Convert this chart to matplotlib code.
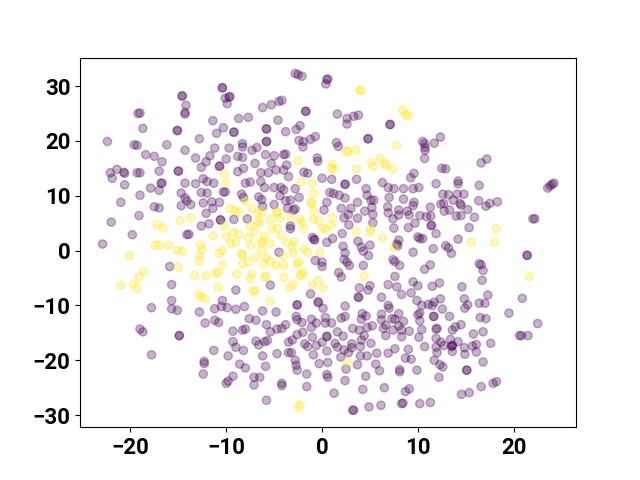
import numpy as np
import matplotlib
matplotlib.use('Agg')
import matplotlib.pyplot as plt

# points, label 0 (purple)
purple = [
(-2.8,32.3),(-2.5,32.1),(-2.1,31.8),(0.5,31.2),(0.6,31.3),(0.4,30.4),(-10.4,29.7),(-10.4,29.7),(-9.7,28.0),(-9.6,28.1),
(-10.1,27.8),(-9.9,26.8),(-14.6,28.2),(-14.6,28.2),(-14.2,26.5),(-14.3,25.2),(-14.3,24.9),(-19.2,25.0),(-19.0,25.1),(-18.7,22.3),
(-15.1,21.9),(-15.1,21.9),(-11.4,23.7),(-8.7,24.1),(-7.7,24.3),(-6.2,26.1),(-5.3,26.6),(-4.5,27.2),(-4.2,27.4),(-1.7,25.4),
(-1.7,25.4),(-4.6,23.8),(-10.3,22.4),(-11.0,21.4),(-9.2,21.6),(-9.2,21.6),(-5.8,22.2),(-5.8,22.2),(-3.8,21.7),(-2.7,22.1),
(-2.3,22.8),(-5.8,19.9),(-5.8,19.9),(-2.4,20.1),(-1.95,19.9),(-2.0,18.9),(-1.2,20.3),(-0.7,20.8),(-8.3,19.5),(-8.3,18.9),
(-7.3,18.3),(-6.8,18.8),(-9.7,18.7),(-11.2,18.7),(-12.8,20.4),(-22.4,19.9),(-19.6,19.3),(-19.3,19.2),(-16.2,19.3),(-14.3,18.3),
(-18.4,17.5),(-17.5,17.2),(-16.7,16.2),(-13.2,16.9),(-11.7,17.3),(-12.1,16.2),(-12.6,15.2),(-10.0,16.7),(-8.8,17.2),(-8.3,17.0),
(-7.0,15.9),(-5.9,17.5),(-5.0,17.3),(-4.0,17.5),(-3.8,17.6),(-5.3,15.9),(-0.5,16.9),(-0.45,16.3),(-3.7,15.6),(-10.7,15.4),
(-10.7,15.4),(-8.2,15.0),(-8.8,14.4),(-6.4,14.2),(-5.6,14.2),(-4.8,14.7),(-4.0,14.7),(-1.9,14.3),(-1.5,14.1),(-3.5,13.5),
(0.0,13.2),(-6.4,12.6),(-22.1,14.2),(-21.4,14.8),(-21.9,13.2),(-20.7,14.3),(-20.6,14.1),(-19.3,14.2),(-19.0,14.2),(-17.0,14.5),
(-15.0,14.5),(-15.0,14.5),(-20.6,12.0),(-16.8,12.3),(-16.7,12.3),(-17.9,11.4),(-17.0,11.0),(-14.3,12.3),(-13.2,12.2),(-12.4,13.1),
(-12.0,12.6),(-11.3,12.3),(-8.0,12.3),(-7.5,12.5),(-6.0,11.5),(-5.0,11.5),(-4.3,11.5),(-4.0,11.1),(-2.8,11.3),(-14.7,10.5),
(-12.6,10.6),(-12.0,10.5),(-10.3,10.7),(-10.1,10.7),(-8.4,10.3),(-19.0,10.1),(-4.4,10.0),(-2.4,9.7),(-21.0,8.8),(-14.3,9.6),
(-14.1,9.1),(-13.7,8.4),(-14.7,8.2),(-12.4,8.7),(-11.5,8.9),(-10.7,8.8),(-11.4,7.7),(-8.2,9.7),(-6.6,9.8),(-6.3,9.3),
(-6.2,8.1),(-5.0,8.4),(-3.3,9.2),(-3.8,9.1),(-3.6,7.7),(-2.8,7.6),(-3.0,7.4),(0.5,8.8),(-17.5,8.0),(-17.0,7.8),
(-12.1,6.8),(-19.1,6.4),(-22.0,5.2),(-10.6,5.6),(-10.6,5.6),(-9.2,5.7),(-7.8,5.8),(-11.8,4.9),(-12.6,4.5),(-3.3,4.5),
(-3.3,4.0),(-14.1,2.9),(-13.9,3.0),(-19.8,2.9),(-22.9,1.2),(-1.0,2.4),(-0.8,2.0),(-0.8,2.0),(0.5,1.5),
(-4.5,-0.3),(-15.9,-2.9),(-15.7,-6.2),(-9.0,-7.2),(-5.4,-6.3),(-1.2,-7.9),(-0.7,-1.8),(0.0,-2.1),(0.0,-2.9),
(-15.7,-9.1),(-15.7,-10.6),(-15.1,-10.9),(-17.8,-10.4),(-12.8,-11.2),(-11.2,-10.6),(-10.4,-9.1),(-10.5,-10.2),(-9.9,-10.4),(-9.0,-10.7),
(-8.1,-10.2),(-2.6,-9.9),(-2.6,-9.9),(-0.4,-9.3),(-0.4,-9.5),(0.1,-10.5),(-6.2,-11.0),(-4.8,-11.2),(-2.7,-12.0),(-2.6,-12.6),
(-2.1,-13.1),(-1.1,-12.5),(-0.6,-13.2),(-1.1,-14.0),(0.35,-12.2),(0.35,-13.2),(-7.6,-12.4),(-6.9,-12.7),(-5.8,-13.5),(-3.8,-13.5),
(-11.2,-12.7),(-10.8,-13.1),(-12.2,-13.2),(-19.0,-14.3),(-18.7,-14.8),(-14.9,-15.5),(-14.9,-15.5),(-9.3,-14.7),(-8.3,-14.5),(-8.0,-14.3),
(-5.4,-14.8),(-4.7,-14.3),(-4.2,-14.2),(-2.0,-14.9),(-2.6,-15.3),(-1.0,-15.8),(0.5,-15.6),(0.5,-15.7),(0.0,-16.7),(-0.6,-17.3),
(-6.9,-16.5),(-6.6,-17.2),(-6.0,-16.6),(-5.7,-16.4),(-9.3,-16.6),(-9.0,-17.6),(-8.2,-18.2),(-3.5,-16.7),(-3.1,-16.3),(-1.8,-17.0),
(-1.5,-17.5),(-11.3,-18.2),(-9.8,-19.2),(-6.2,-19.2),(-4.7,-18.8),(-3.5,-18.6),(-3.2,-18.6),(-0.9,-19.0),(0.5,-18.3),(-17.8,-19.0),
(-12.3,-20.2),(-12.3,-20.6),(-12.4,-22.5),(-2.8,-20.0),(-2.7,-20.9),(-2.6,-21.8),(-8.6,-20.7),(-8.0,-21.4),(-5.9,-21.1),(-0.3,-20.6),
(0.6,-20.4),(-1.6,-22.5),(0.5,-22.6),(0.6,-23.1),(-9.3,-22.9),(-9.8,-23.8),(-10.0,-24.2),(-7.1,-23.1),(-6.5,-23.1),(-7.1,-24.5),
(-4.2,-24.2),(-4.2,-24.6),(-1.6,-24.8),(-5.8,-27.3),
(1.6,24.9),(2.6,24.1),(2.6,23.1),(3.3,24.5),(3.8,24.7),(7.1,23.0),(7.1,23.0),(4.8,20.4),(4.8,20.4),(1.5,19.7),
(1.7,19.0),(10.5,19.9),(10.7,19.5),(10.75,18.8),(10.75,18.3),(11.7,19.6),(12.35,20.7),(10.7,16.8),(16.6,16.0),(17.2,16.7),
(12.5,15.0),(12.9,14.9),(9.6,14.1),(9.25,13.3),(1.0,13.0),(3.6,13.0),(2.4,12.1),(2.4,12.1),(6.3,12.4),(4.6,11.3),
(6.9,11.5),(7.5,11.3),(8.5,11.3),(9.5,11.3),(10.1,11.5),(11.9,12.2),(14.2,12.7),(14.2,12.2),(16.4,11.9),(23.55,11.4),
(23.8,11.8),(24.0,12.1),(24.2,12.3),(0.83,10.6),(1.2,10.4),(1.8,10.1),(2.4,9.6),(4.7,10.1),(5.1,9.2),(5.4,9.2),
(5.2,7.9),(7.0,9.7),(8.5,9.4),(12.6,10.3),(13.2,10.2),(14.1,10.3),(14.8,10.3),(13.7,9.2),(0.2,7.4),(3.7,8.8),
(2.0,7.7),(3.0,7.7),(2.75,6.6),(2.3,6.0),(3.7,5.9),(4.45,7.2),(6.85,8.0),(6.9,6.9),(7.4,5.8),(8.0,7.4),
(8.0,6.5),(8.9,7.2),(9.1,6.5),(9.6,8.8),(9.5,8.2),(11.3,7.9),(10.2,6.4),(10.9,6.2),(11.35,6.3),(12.4,8.5),
(12.7,8.6),(12.75,7.2),(13.3,7.4),(14.4,8.6),(14.5,8.3),(15.2,7.5),(14.0,6.3),(14.5,6.4),(15.9,6.1),(16.35,9.1),
(17.1,8.1),(17.5,8.6),(18.3,8.9),(5.3,6.6),(5.3,5.1),(2.8,4.7),(9.7,5.0),(9.0,4.2),(11.4,4.6),(11.4,4.6),
(7.5,4.1),(15.35,4.2),(2.1,3.1),(1.1,2.2),(3.75,1.7),(10.0,2.5),(10.2,2.2),(10.5,2.2),(11.9,3.1),
(8.0,1.9),(7.8,1.2),(14.2,2.1),(22.0,5.8),(22.2,5.8),
(2.2,0.8),(2.4,-0.4),(2.3,-1.6),(2.6,-2.1),(2.85,-2.7),(4.1,0.65),(4.3,-0.1),(4.85,-0.9),(5.0,1.0),
(4.3,-2.7),(7.9,0.9),(9.5,-0.3),(11.6,0.35),(12.9,0.9),(13.2,0.5),(13.5,-0.5),(21.4,-0.85),(21.4,-0.85),
(7.4,-1.65),(7.6,-2.0),(8.1,-2.7),(11.3,-2.6),(10.7,-3.4),(16.4,-2.4),(16.6,-2.6),(16.8,-3.6),(1.74,-4.0),(2.0,-4.8),
(7.6,-4.7),(16.7,-5.4),(9.5,-5.7),(10.0,-6.4),(12.25,-5.9),(11.5,-6.5),(14.6,-6.6),(6.9,-6.2),(7.8,-6.6),(8.3,-8.0),
(3.9,-6.8),(5.0,-6.4),(4.8,-7.2),(3.8,-8.5),(3.8,-8.5),(6.2,-8.5),(9.3,-7.7),(9.9,-9.1),(10.4,-10.0),(12.35,-8.8),
(11.7,-9.4),(11.1,-9.8),(11.5,-10.0),(12.55,-10.65),(14.85,-8.8),(15.2,-9.9),(14.9,-10.5),(17.3,-8.1),(16.4,-9.6),(17.0,-9.6),
(20.9,-8.7),(19.5,-11.4),(22.5,-13.3),(2.4,-10.1),(4.2,-11.5),(4.6,-11.9),(4.1,-12.5),(2.4,-12.0),
(2.0,-12.3),(1.0,-13.2),(6.9,-10.0),(7.0,-10.5),(6.2,-11.6),(6.2,-12.6),(8.0,-11.5),(7.3,-12.4),
(7.6,-12.5),(8.5,-12.9),(8.0,-13.7),(10.0,-11.7),(10.2,-11.4),(10.2,-12.8),(11.65,-12.0),(11.65,-12.0),(13.3,-12.0),(16.5,-12.2),
(17.1,-12.4),(5.25,-13.7),(4.7,-14.0),(3.9,-14.5),(3.2,-14.2),(6.65,-13.6),(6.4,-14.2),(7.4,-14.5),(8.3,-14.5),(9.1,-14.7),
(10.4,-14.4),(12.0,-14.2),(11.9,-14.3),(14.5,-13.5),(13.9,-13.9),(13.6,-14.5),(16.8,-14.8),(15.8,-15.2),(1.6,-14.8),(2.2,-15.6),
(4.4,-15.5),(4.1,-16.3),(6.65,-15.5),(8.3,-15.7),(10.1,-15.8),(11.9,-16.0),(12.4,-16.7),(13.4,-16.2),(14.2,-16.6),
(13.6,-17.3),(13.6,-17.3),(13.5,-17.5),(12.7,-17.3),(11.9,-17.6),(10.7,-17.5),(5.1,-16.9),(9.0,-18.0),(1.35,-16.9),(1.6,-17.6),
(3.1,-17.0),(3.1,-17.7),(4.0,-17.5),(7.6,-17.9),(14.85,-17.7),(15.7,-17.4),(16.1,-17.1),(17.6,-16.9),(20.6,-15.5),
(20.8,-15.5),(21.5,-15.5),(2.3,-18.1),(2.75,-18.6),(1.95,-19.4),(4.0,-19.2),(4.7,-19.2),(5.7,-18.7),(6.9,-18.7),(12.0,-18.6),
(13.6,-18.4),(14.9,-18.9),(16.1,-18.5),(8.7,-19.6),(9.3,-19.8),(11.7,-20.0),(12.3,-20.8),(12.6,-21.2),(16.8,-20.3),(15.1,-21.8),
(15.1,-21.8),(3.7,-20.8),(5.6,-20.7),(6.0,-21.9),(2.5,-21.6),(8.1,-21.7),(8.1,-22.1),(9.9,-21.8),
(4.55,-22.9),(12.2,-23.1),(2.4,-23.7),(6.5,-25.0),(9.1,-25.2),(8.7,-25.7),(4.25,-25.3),(1.25,-26.0),(18.2,-23.9),(17.85,-24.2),
(16.6,-24.8),(15.35,-25.9),(14.55,-26.2),(3.3,-29.1),(3.2,-29.1),(4.9,-28.5),(6.15,-28.2),(8.3,-27.9),(8.45,-27.8),(10.2,-27.9),
(11.3,-27.7),
]

# label 1 (yellow)
yellow = [
(-2.5,16.4),(-10.2,14.0),(-10.0,12.3),(-2.2,12.5),(-1.0,12.2),(-0.8,10.5),(-1.1,8.7),(-1.1,8.8),(-0.9,7.3),(-8.0,9.0),
(-9.6,7.7),(-9.1,7.3),(-8.7,7.1),(-7.3,7.7),(-6.3,7.0),(-6.7,6.8),(-4.7,6.9),(-4.7,7.0),(-4.4,6.0),(-5.4,5.7),
(-3.3,6.0),(-2.3,5.7),(-2.1,5.2),(-0.9,5.7),(-0.3,5.5),(0.0,4.1),(0.4,3.8),(-1.9,4.0),(-17.2,4.7),(-16.6,4.1),
(-14.8,5.5),(-13.7,6.0),(-10.2,4.5),(-7.5,4.5),(-6.6,5.4),(-6.6,4.9),(-7.1,3.4),(-5.2,4.0),(-4.7,4.1),(-4.3,2.8),
(-11.4,2.7),(-10.0,2.6),(-9.3,3.3),(-8.7,3.0),(-7.7,2.3),(-6.0,2.7),(-6.3,1.8),(-5.4,1.3),(-3.7,1.5),(-2.9,1.6),
(-17.4,1.0),(-17.0,1.0),(-16.0,1.0),(-12.7,1.0),(-9.5,1.3),(-9.0,1.5),(-6.3,1.3),
(-20.1,-0.9),(-15.1,0.05),(-14.6,-0.1),(-15.0,-3.0),(-12.5,0.2),(-12.8,-0.9),(-12.8,-2.0),(-10.4,0.05),(-10.7,-0.5),(-8.4,-0.55),
(-8.3,-0.8),(-7.4,1.0),(-6.9,-1.2),(-7.7,-2.0),(-8.3,-2.4),(-6.3,0.0),(-5.8,-1.3),(-5.4,-1.9),(-6.1,-2.5),(-4.8,-2.7),
(-4.0,-1.0),(-4.0,-2.7),(-3.1,0.7),(-3.0,-0.4),(-2.6,-2.4),(-2.4,-2.1),(-1.9,0.3),(-1.5,-0.3),(-0.2,-0.3),(-10.4,-2.6),
(-18.6,-3.8),(-19.1,-4.8),(-19.7,-6.1),(-19.3,-6.9),(-21.0,-6.3),(-13.3,-4.5),(-12.1,-4.6),(-11.1,-4.1),(-10.8,-4.0),(-8.9,-4.3),
(-7.3,-4.2),(-7.5,-5.1),(-6.0,-4.8),(-5.8,-4.8),(-4.0,-4.9),(-2.0,-3.9),(-2.1,-4.4),(-2.3,-4.6),(-10.8,-6.7),(-3.0,-6.2),
(-3.4,-6.7),(-1.0,-6.3),(-0.4,-5.5),(0.1,-6.8),(-12.9,-8.0),(-12.6,-8.4),(-12.2,-8.8),(-7.2,-7.3),(-7.0,-7.4),(-5.4,-9.2),
(-2.3,-28.1),(-2.5,-28.5),
(4.0,29.2),(4.0,29.2),(8.45,25.7),(8.7,24.8),(9.0,24.6),(7.8,19.2),(2.6,18.1),(2.7,18.1),(3.55,18.3),(5.15,16.0),
(5.3,15.3),(6.05,16.8),(6.5,15.9),(6.7,15.6),(7.35,14.9),(1.1,15.8),(1.0,15.1),(1.2,14.8),(3.6,14.9),(1.1,6.0),
(0.95,4.6),(3.55,3.5),(5.1,3.9),(5.0,3.3),(6.3,2.3),(18.2,4.0),(15.55,1.5),
(18.0,1.5),(7.5,0.6),(4.4,-4.7),(21.6,-4.8),(2.6,-20.4),
]

labels = [0] * len(purple) + [1] * len(yellow)
pts = np.array(purple + yellow)

plt.rcParams['font.family'] = ['Roboto', 'DejaVu Sans']
plt.rcParams['font.weight'] = 'bold'
plt.rcParams['font.size'] = 16

fig, ax = plt.subplots(figsize=(6.4, 4.8), dpi=100)
ax.scatter(pts[:, 0], pts[:, 1], c=labels, cmap='viridis', alpha=0.3)
ax.set_xlim(-25.26, 26.5)
ax.set_ylim(-32.2, 35.2)
ax.set_xticks([-20, -10, 0, 10, 20])
ax.set_yticks([-30, -20, -10, 0, 10, 20, 30])
plt.savefig('out.png', dpi=100)
